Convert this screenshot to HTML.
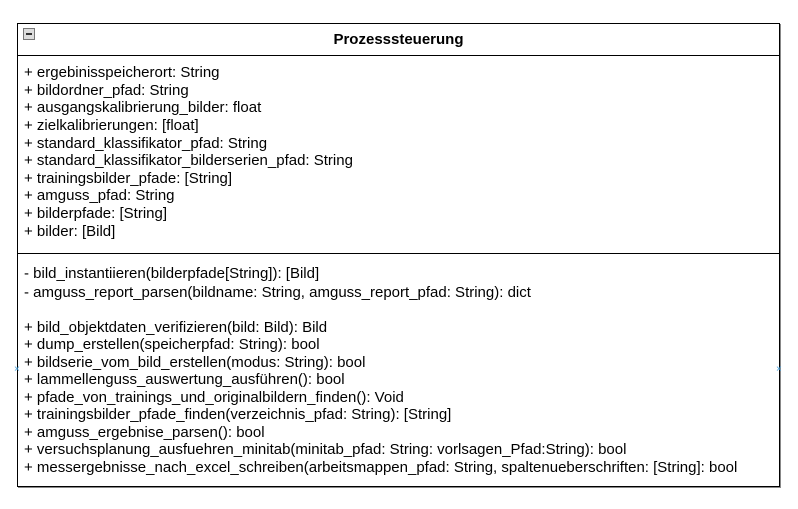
<!DOCTYPE html>
<html><head><style>
body{margin:0;width:798px;height:509px;background:#fff;position:relative;font-family:"Liberation Sans",Arial,sans-serif;font-size:15px;color:#000;overflow:hidden}
.box{position:absolute;left:17px;top:23px;width:761px;height:462px;border:1px solid #000;box-shadow:1px 1px 0 #888}
.h{position:absolute;left:17px;width:763px;height:1px;background:#000}
.t{position:absolute;left:24px;white-space:nowrap;line-height:17px}
.title{position:absolute;left:17px;width:763px;top:31px;text-align:center;font-weight:bold;font-size:15px}
.min{position:absolute;left:23px;top:28px;width:10px;height:10px;border:1px solid #777;background:#ddd}
.min:after{content:"";position:absolute;left:2px;top:4px;width:6px;height:2px;background:#333}
.x{position:absolute;color:#4aa3df;font-size:10px;top:364px}
</style></head><body>
<div class="box"></div>
<div class="min"></div>
<div class="title">Prozesssteuerung</div>
<div class="h" style="top:55px"></div>
<div class="h" style="top:253px"></div>
<div class="t" style="top:64px">+ ergebinisspeicherort: String</div>
<div class="t" style="top:82px">+ bildordner_pfad: String</div>
<div class="t" style="top:99px">+ ausgangskalibrierung_bilder: float</div>
<div class="t" style="top:117px">+ zielkalibrierungen: [float]</div>
<div class="t" style="top:135px">+ standard_klassifikator_pfad: String</div>
<div class="t" style="top:152px">+ standard_klassifikator_bilderserien_pfad: String</div>
<div class="t" style="top:170px">+ trainingsbilder_pfade: [String]</div>
<div class="t" style="top:187px">+ amguss_pfad: String</div>
<div class="t" style="top:205px">+ bilderpfade: [String]</div>
<div class="t" style="top:223px">+ bilder: [Bild]</div>
<div class="t" style="top:265px">- bild_instantiieren(bilderpfade[String]): [Bild]</div>
<div class="t" style="top:284px">- amguss_report_parsen(bildname: String, amguss_report_pfad: String): dict</div>
<div class="t" style="top:319px">+ bild_objektdaten_verifizieren(bild: Bild): Bild</div>
<div class="t" style="top:336px">+ dump_erstellen(speicherpfad: String): bool</div>
<div class="t" style="top:354px">+ bildserie_vom_bild_erstellen(modus: String): bool</div>
<div class="t" style="top:371px">+ lammellenguss_auswertung_ausführen(): bool</div>
<div class="t" style="top:389px">+ pfade_von_trainings_und_originalbildern_finden(): Void</div>
<div class="t" style="top:406px">+ trainingsbilder_pfade_finden(verzeichnis_pfad: String): [String]</div>
<div class="t" style="top:424px">+ amguss_ergebnise_parsen(): bool</div>
<div class="t" style="top:441px">+ versuchsplanung_ausfuehren_minitab(minitab_pfad: String: vorlsagen_Pfad:String): bool</div>
<div class="t" style="top:459px">+ messergebnisse_nach_excel_schreiben(arbeitsmappen_pfad: String, spaltenueberschriften: [String]: bool</div>
<div class="x" style="left:14px">×</div>
<div class="x" style="left:776px">×</div>
</body></html>
